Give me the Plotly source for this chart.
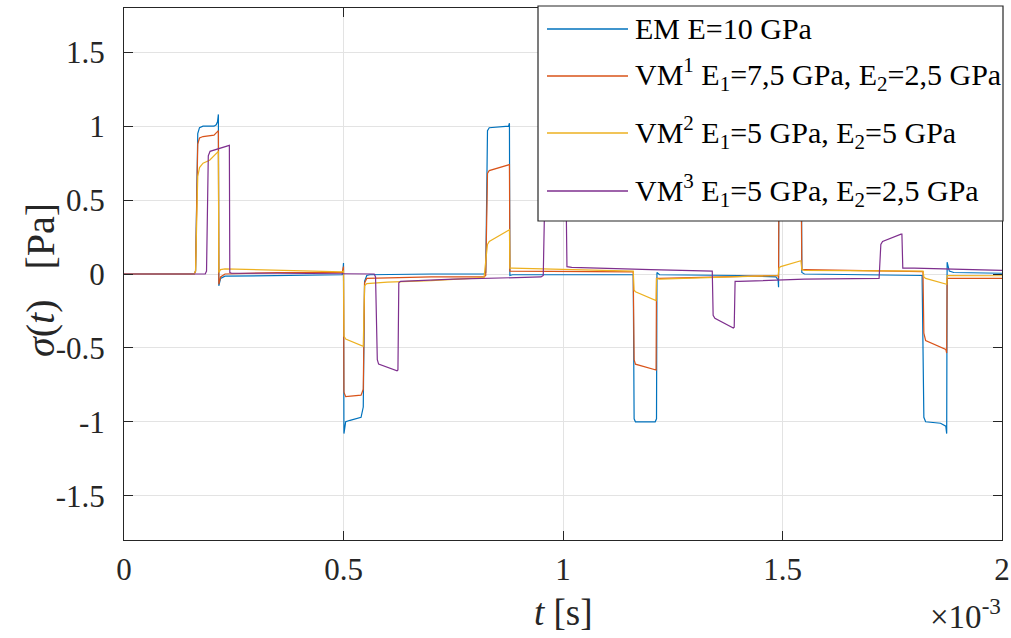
import numpy as np
import plotly.graph_objects as go

# ---- stress response sigma(t) of the elastic model and three viscoelastic models ----
# time in milliseconds (converted to seconds for plotting)
t_em_ms = [0, 0.160, 0.163, 0.168, 0.172, 0.180, 0.205, 0.210, 0.213, 0.215, 0.216, 0.220, 0.230,
           0.350, 0.497, 0.499, 0.500, 0.501, 0.505, 0.515, 0.540, 0.545, 0.548, 0.553, 0.560,
           0.700, 0.820, 0.824, 0.828, 0.832, 0.876, 0.878, 0.879, 0.885,
           1.160, 1.162, 1.165, 1.210, 1.213, 1.214, 1.220,
           1.400, 1.485, 1.490, 1.491, 1.492, 1.496, 1.540, 1.543, 1.544, 1.550,
           1.818, 1.822, 1.826, 1.860, 1.872, 1.874, 1.875, 1.880, 1.890, 2.000]
s_em = [0, 0.0, 0.02, 0.95, 0.99, 1.00, 1.00, 1.01, 1.03, 1.08, -0.08, -0.03, -0.015,
        -0.01, -0.005, 0.03, 0.075, -1.08, -1.00, -0.99, -0.97, -0.90, -0.05, -0.01, -0.005,
        0.0, 0.0, 0.01, 0.97, 0.99, 1.00, 1.02, -0.01, -0.005,
        -0.005, -0.98, -1.00, -1.00, -0.98, 0.01, -0.005,
        -0.01, -0.02, -0.04, -0.09, 0.97, 1.00, 1.00, 1.02, 0.01, 0.0,
        -0.01, -0.97, -1.00, -1.01, -1.03, -1.08, 0.08, 0.02, 0.01, 0.005]

t_vm1_ms = [0, 0.160, 0.163, 0.168, 0.172, 0.180, 0.205, 0.213, 0.215, 0.216, 0.220, 0.230,
            0.350, 0.497, 0.499, 0.500, 0.501, 0.505, 0.540, 0.545, 0.548, 0.553,
            0.700, 0.820, 0.824, 0.828, 0.832, 0.876, 0.878, 0.879, 0.885,
            1.160, 1.162, 1.165, 1.212, 1.213, 1.220,
            1.490, 1.491, 1.492, 1.496, 1.542, 1.544, 1.550,
            1.820, 1.822, 1.826, 1.872, 1.874, 1.875, 2.000]
s_vm1 = [0, 0.0, 0.02, 0.88, 0.92, 0.93, 0.94, 0.96, 0.97, -0.07, -0.02, 0.0,
         0.01, 0.01, 0.03, 0.05, -0.80, -0.83, -0.82, -0.78, -0.06, -0.03,
         -0.02, -0.02, -0.01, 0.68, 0.70, 0.74, 0.74, 0.02, 0.02,
         0.015, -0.58, -0.61, -0.65, -0.03, -0.03,
         -0.01, -0.03, 0.74, 0.76, 0.80, 0.03, 0.03,
         0.016, -0.40, -0.45, -0.51, -0.535, -0.03, -0.03]

t_vm2_ms = [0, 0.160, 0.163, 0.168, 0.172, 0.180, 0.195, 0.205, 0.213, 0.215, 0.216, 0.220, 0.230,
            0.350, 0.497, 0.500, 0.501, 0.505, 0.545, 0.548, 0.553, 0.600, 0.700,
            0.820, 0.828, 0.832, 0.878, 0.879, 0.885,
            1.160, 1.162, 1.165, 1.212, 1.213, 1.220,
            1.490, 1.492, 1.496, 1.542, 1.544, 1.550,
            1.820, 1.822, 1.826, 1.874, 1.875, 2.000]
s_vm2 = [0, 0.0, 0.02, 0.66, 0.72, 0.75, 0.77, 0.80, 0.82, 0.83, 0.01, 0.03, 0.035,
         0.025, 0.015, 0.02, -0.42, -0.44, -0.49, -0.08, -0.065, -0.055, -0.045,
         -0.025, 0.20, 0.22, 0.30, 0.04, 0.04,
         0.02, -0.11, -0.12, -0.18, -0.03, -0.035,
         -0.01, 0.04, 0.05, 0.09, 0.03, 0.025,
         0.02, -0.02, -0.03, -0.07, -0.01, -0.012]

t_vm3_ms = [0, 0.185, 0.188, 0.192, 0.196, 0.236, 0.240, 0.241, 0.245,
            0.350, 0.500, 0.570, 0.573, 0.577, 0.580, 0.622, 0.624, 0.626, 0.630,
            0.750, 0.950, 0.955, 0.958, 1.007, 1.009, 1.020,
            1.200, 1.340, 1.342, 1.346, 1.388, 1.390, 1.392, 1.400,
            1.550, 1.720, 1.724, 1.728, 1.770, 1.772, 1.774, 1.800, 2.000]
s_vm3 = [0, 0.0, 0.02, 0.80, 0.83, 0.87, 0.87, 0.01, 0.005,
         0.005, 0.005, 0.0, -0.02, -0.58, -0.61, -0.655, -0.65, -0.06, -0.05,
         -0.035, -0.02, -0.01, 0.45, 0.55, 0.05, 0.045,
         0.03, 0.02, -0.28, -0.30, -0.365, -0.36, -0.05, -0.05,
         -0.035, -0.03, 0.20, 0.22, 0.27, 0.27, 0.04, 0.04, 0.025]

series_names = [
    "EM E=10 GPa",
    "VM<sup>1</sup> E<sub>1</sub>=7,5 GPa, E<sub>2</sub>=2,5 GPa",
    "VM<sup>2</sup> E<sub>1</sub>=5 GPa, E<sub>2</sub>=5 GPa",
    "VM<sup>3</sup> E<sub>1</sub>=5 GPa, E<sub>2</sub>=2,5 GPa",
]
series_colors = ["#0072BD", "#D95319", "#EDB120", "#7E2F8E"]

x_ticks_ms = [0, 0.5, 1, 1.5, 2]
x_tick_labels = ["0", "0.5", "1", "1.5", "2"]
y_ticks = [-1.5, -1, -0.5, 0, 0.5, 1, 1.5]
y_tick_labels = ["-1.5", "-1", "-0.5", "0", "0.5", "1", "1.5"]

series_t = [t_em_ms, t_vm1_ms, t_vm2_ms, t_vm3_ms]
series_s = [s_em, s_vm1, s_vm2, s_vm3]

FONT = "Times New Roman, Liberation Serif, serif"
AXC = "#262626"

fig = go.Figure()
for t_ms, s, name, col in zip(series_t, series_s, series_names, series_colors):
    fig.add_trace(go.Scatter(x=np.array(t_ms) * 1e-3, y=s, mode="lines", name=name,
                             line=dict(color=col, width=1.2), showlegend=False))

W, H = 1011, 638
L, R, T, B = 124, 9, 8, 98
PW, PH = W - L - R, H - T - B


def px(xp):
    return (xp - L) / PW


def py(yp):
    return (H - B - yp) / PH


axis_common = dict(showgrid=True, gridcolor="#e3e3e3", gridwidth=1, zeroline=False,
                   showline=True, linecolor=AXC, linewidth=1, mirror="ticks",
                   ticks="inside", ticklen=9, tickcolor=AXC, tickwidth=1,
                   automargin=False,
                   tickfont=dict(family=FONT, size=31, color=AXC))

fig.update_layout(
    width=W, height=H,
    margin=dict(l=L, r=R, t=T, b=B, autoexpand=False),
    paper_bgcolor="white", plot_bgcolor="white",
    font=dict(family=FONT, color=AXC),
    xaxis=dict(range=[0, 2e-3], tickvals=np.array(x_ticks_ms) * 1e-3, ticktext=x_tick_labels,
               ticklabelstandoff=2, **axis_common),
    yaxis=dict(range=[-1.8, 1.8], tickvals=y_ticks, ticktext=y_tick_labels,
               ticklabelstandoff=12, **axis_common),
)

# axis titles and exponent label
fig.add_annotation(text="<i>t</i> [s]", xref="paper", yref="paper", x=px(563), y=py(612),
                   showarrow=False, font=dict(family=FONT, size=37, color=AXC),
                   xanchor="center", yanchor="middle")
fig.add_annotation(text="<i>σ</i>(<i>t</i>)   [Pa]", xref="paper", yref="paper", x=px(40), y=py(280),
                   showarrow=False, textangle=-90, font=dict(family=FONT, size=40, color=AXC),
                   xanchor="center", yanchor="middle")
fig.add_annotation(text="×10<sup>-3</sup>", xref="paper", yref="paper", x=px(1003), y=py(637),
                   showarrow=False, font=dict(family=FONT, size=33, color=AXC),
                   xanchor="right", yanchor="bottom")

# legend box
fig.add_shape(type="rect", xref="paper", yref="paper", x0=px(538), x1=px(1003), y0=py(221), y1=py(6),
              line=dict(color=AXC, width=1.2), fillcolor="white", layer="above")
row_y = [28, 75, 132.5, 190.5]
line_y = [29, 76, 133, 191]
for yy, ly, name, col in zip(row_y, line_y, series_names, series_colors):
    fig.add_shape(type="line", xref="paper", yref="paper", x0=px(547), x1=px(628), y0=py(ly), y1=py(ly),
                  line=dict(color=col, width=1.3), layer="above")
    fig.add_annotation(text=name, xref="paper", yref="paper", x=px(633), y=py(yy),
                       showarrow=False, xanchor="left", yanchor="middle",
                       font=dict(family=FONT, size=30, color="black"))

fig.write_html("out.html")
